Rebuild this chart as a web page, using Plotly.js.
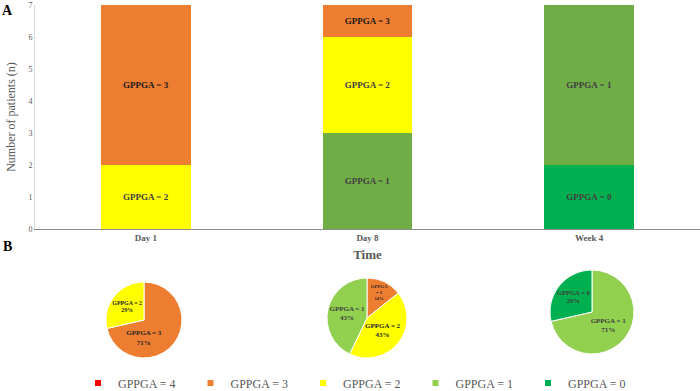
<!DOCTYPE html>
<html><head><meta charset="utf-8">
<script src="https://cdn.plot.ly/plotly-3.0.1.min.js"></script>
<style>html,body{margin:0;padding:0;background:#fff}#chart{width:700px;height:391px}</style>
</head><body><div id="chart"></div>
<script>
var timepoints = ['Day 1', 'Day 8', 'Week 4'];
var grades = ['GPPGA = 4', 'GPPGA = 3', 'GPPGA = 2', 'GPPGA = 1', 'GPPGA = 0'];
var g3 = [5, 1, 0];
var g2 = [2, 3, 0];
var g1 = [0, 3, 5];
var g0 = [0, 0, 2];

var barColors = {'GPPGA = 3':'#ED7D31','GPPGA = 2':'#FFFF00','GPPGA = 1':'#70AD47','GPPGA = 0':'#00B050'};
var pieColors = {'GPPGA = 4':'#FF0000','GPPGA = 3':'#ED7D31','GPPGA = 2':'#FFFF00','GPPGA = 1':'#92D050','GPPGA = 0':'#00B050'};
var barText = {'GPPGA = 3':'#1a1a1a','GPPGA = 2':'#404040','GPPGA = 1':'#404040','GPPGA = 0':'#404040'};

var serif = '"Liberation Serif", "Times New Roman", serif';
var traces = [];
var stack = [['GPPGA = 0', g0], ['GPPGA = 1', g1], ['GPPGA = 2', g2], ['GPPGA = 3', g3]];
stack.forEach(function(s){
  traces.push({
    type:'bar', x:timepoints, y:s[1], name:s[0], showlegend:false,
    marker:{color:barColors[s[0]], line:{width:0}},
    text:s[1].map(function(v){return v>0 ? s[0] : '';}),
    textposition:'inside', insidetextanchor:'middle', textangle:0,
    textfont:{family:serif, size:9, color:barText[s[0]], weight:'bold'},
    hoverinfo:'skip', width:0.405
  });
});

// Pies
var pieDomains = [
  {x:[(106-35)/665,(182-35)/665], y:[(391-358)/386,(391-282)/386]},
  {x:[(327-35)/665,(407-35)/665], y:[(391-358)/386,(391-278)/386]},
  {x:[(550-35)/665,(634-35)/665], y:[(391-354)/386,(391-270)/386]}
];
var series = {'GPPGA = 3':g3,'GPPGA = 2':g2,'GPPGA = 1':g1,'GPPGA = 0':g0};
var order = ['GPPGA = 3','GPPGA = 2','GPPGA = 1','GPPGA = 0'];
timepoints.forEach(function(t, i){
  var labels = [], values = [], tmpl = [], tcol = [];
  order.forEach(function(g){
    var v = series[g][i];
    if (v > 0) {
      labels.push(g); values.push(v);
      var small = v / (g3[i]+g2[i]+g1[i]+g0[i]) < 0.2;
      tmpl.push(small ? 'GPPGA<br>= ' + g.slice(-1) + '<br>%{percent:.0%}' : '%{label}<br>%{percent:.0%}');
      tcol.push(g==='GPPGA = 1' || g==='GPPGA = 0' ? '#404040' : '#262626');
    }
  });
  traces.push({
    type:'pie', labels:labels, values:values, sort:false, direction:'clockwise', rotation:0,
    domain:pieDomains[i], showlegend:false,
    marker:{colors:labels.map(function(l){return pieColors[l];}), line:{color:'#ffffff', width:1}},
    texttemplate:tmpl, textinfo:'text', textposition:'inside', insidetextorientation:'horizontal',
    textfont:{family:serif, size:7, color:tcol, weight:'bold'}, hoverinfo:'skip'
  });
});

// legend entries
grades.forEach(function(g){
  traces.push({type:'scatter', mode:'markers', x:[null], y:[null], name:g,
    marker:{symbol:'square', size:6, color:pieColors[g]}, hoverinfo:'skip'});
});

var layout = {
  width:700, height:391,
  margin:{l:35, r:0, t:5, b:0, autoexpand:false},
  paper_bgcolor:'#ffffff', plot_bgcolor:'#ffffff',
  barmode:'stack', bargap:0.6,
  font:{family:serif, color:'#595959'},
  xaxis:{type:'category', showline:true, linecolor:'#8c8c8c', linewidth:1, showgrid:false, zeroline:false,
    ticks:'', tickfont:{family:serif, size:9, color:'#595959', weight:'bold'},
    title:{text:'Time', font:{family:serif, size:13, color:'#595959', weight:'bold'}, standoff:8},
    fixedrange:true, automargin:false},
  yaxis:{domain:[(391-229)/386, 1], range:[0,7], dtick:1, showline:true, linecolor:'#d9d9d9', linewidth:1,
    showgrid:false, zeroline:false, ticks:'', tickfont:{family:serif, size:8, color:'#595959'},
    title:{text:'Number of patients (n)', font:{family:serif, size:12, color:'#595959'}, standoff:10},
    fixedrange:true, automargin:false},
  legend:{orientation:'h', x:(78-35)/665, xanchor:'left', y:(391-383)/386, yanchor:'middle',
    entrywidth:67.5, entrywidthmode:'pixels', itemwidth:30, traceorder:'normal', tracegroupgap:0,
    font:{family:serif, size:12, color:'#595959'}, bgcolor:'rgba(0,0,0,0)'},
  annotations:[
    {text:'A', xref:'paper', yref:'paper', x:-27/665, y:(391-10)/386, xanchor:'center', yanchor:'middle', showarrow:false,
      font:{family:serif, size:14, color:'#000000', weight:'bold'}},
    {text:'B', xref:'paper', yref:'paper', x:-27/665, y:(391-246)/386, xanchor:'center', yanchor:'middle', showarrow:false,
      font:{family:serif, size:14, color:'#000000', weight:'bold'}}
  ]
};
Plotly.newPlot('chart', traces, layout, {displayModeBar:false, staticPlot:true});
</script></body></html>
